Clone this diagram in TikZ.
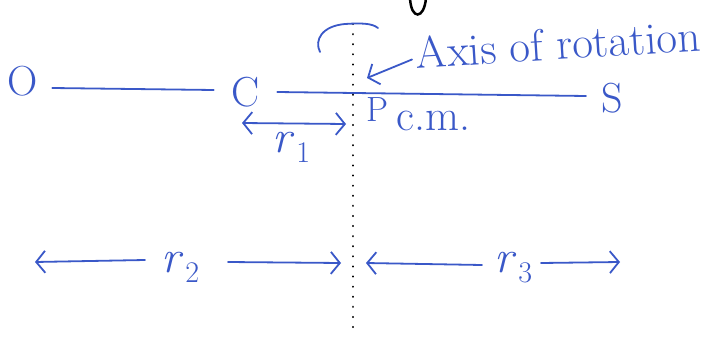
\documentclass[tikz,border=0pt]{standalone}
\usetikzlibrary{arrows.meta}
\definecolor{ink}{RGB}{58,88,200}
\newcommand{\rsub}[1]{\textit{r}\hspace{2pt}\raisebox{-10pt}{\fontsize{30}{30}\selectfont #1}}
\begin{document}
\begin{tikzpicture}[x=1pt,y=-1pt,
  pen/.style={draw=ink, line width=1.8pt, line cap=round},
  lbl/.style={text=ink, inner sep=0pt, font=\fontsize{42}{42}\selectfont},
  rlbl/.style={text=ink, inner sep=0pt, anchor=base west, font=\fontsize{46}{46}\selectfont},
  tip/.style={-{Straight Barb[length=9pt,width=22pt]}},
  tips/.style={{Straight Barb[length=9pt,width=22pt]}-{Straight Barb[length=9pt,width=22pt]}},
  axisline/.style={draw=black, line width=2.2pt, line cap=round, dash pattern=on 0.1pt off 10pt}
]
\useasboundingbox (0,0) rectangle (711,337);
\fill[white] (0,0) rectangle (711,337);

% points on the line
\node[lbl] (O) at (23,81) {O};
\node[lbl] (C) at (246,92) {C};
\node[lbl] (S) at (612,98) {S};
\node[lbl, anchor=base west, font=\fontsize{35}{35}\selectfont] (P) at (366,121) {P};
\node[lbl, anchor=base west, font=\fontsize{44}{44}\selectfont] (cm) at (396,130) {c.m.};

\draw[pen] ([xshift=14pt,yshift=-7pt]O.east) -- ([xshift=-18pt,yshift=2pt]C.west);
\draw[pen] ([xshift=17pt]C.east) -- ([xshift=-15pt,yshift=2pt]S.west);

% axis of rotation
\coordinate (axtop) at (353,24);
\coordinate (axbot) at (353,337);
\draw[axisline] (axtop) -- (axbot);
\draw[pen] (320,52) .. controls (314,40) and (322,26) .. (345,24) .. controls (360,23) and (372,23) .. (378,28);
\draw[black, line width=2.5pt, line cap=round] (410,-2) .. controls (411,20) and (424,20) .. (426,-2);

\node[lbl, font=\fontsize{45}{45}\selectfont, rotate=3.6] (axis) at (558,44) {Axis of rotation};
\coordinate (axtip) at (367,78);
\draw[pen, tip, shorten <=4pt] ([yshift=-5pt]axis.west) -- (axtip);

% r1
\node[rlbl] (r1) at (272,152) {\rsub{1}};
\coordinate (r1a) at (242,123);
\coordinate (r1b) at (346,124);
\draw[pen, tips] (r1a) -- (r1b);

% r2
\node[rlbl] (r2) at (161,272) {\rsub{2}};
\coordinate (r2s) at (145,260);
\coordinate (r2l) at (35,262);
\coordinate (r2t) at (228,262);
\coordinate (r2r) at (341,263);
\draw[pen, tip] (r2s) -- (r2l);
\draw[pen, tip] (r2t) -- (r2r);

% r3
\node[rlbl] (r3) at (494,272) {\rsub{3}};
\coordinate (r3s) at (482,265);
\coordinate (r3l) at (366,263);
\coordinate (r3t) at (541,263);
\coordinate (r3r) at (620,262);
\draw[pen, tip] (r3s) -- (r3l);
\draw[pen, tip] (r3t) -- (r3r);
\end{tikzpicture}
\end{document}
